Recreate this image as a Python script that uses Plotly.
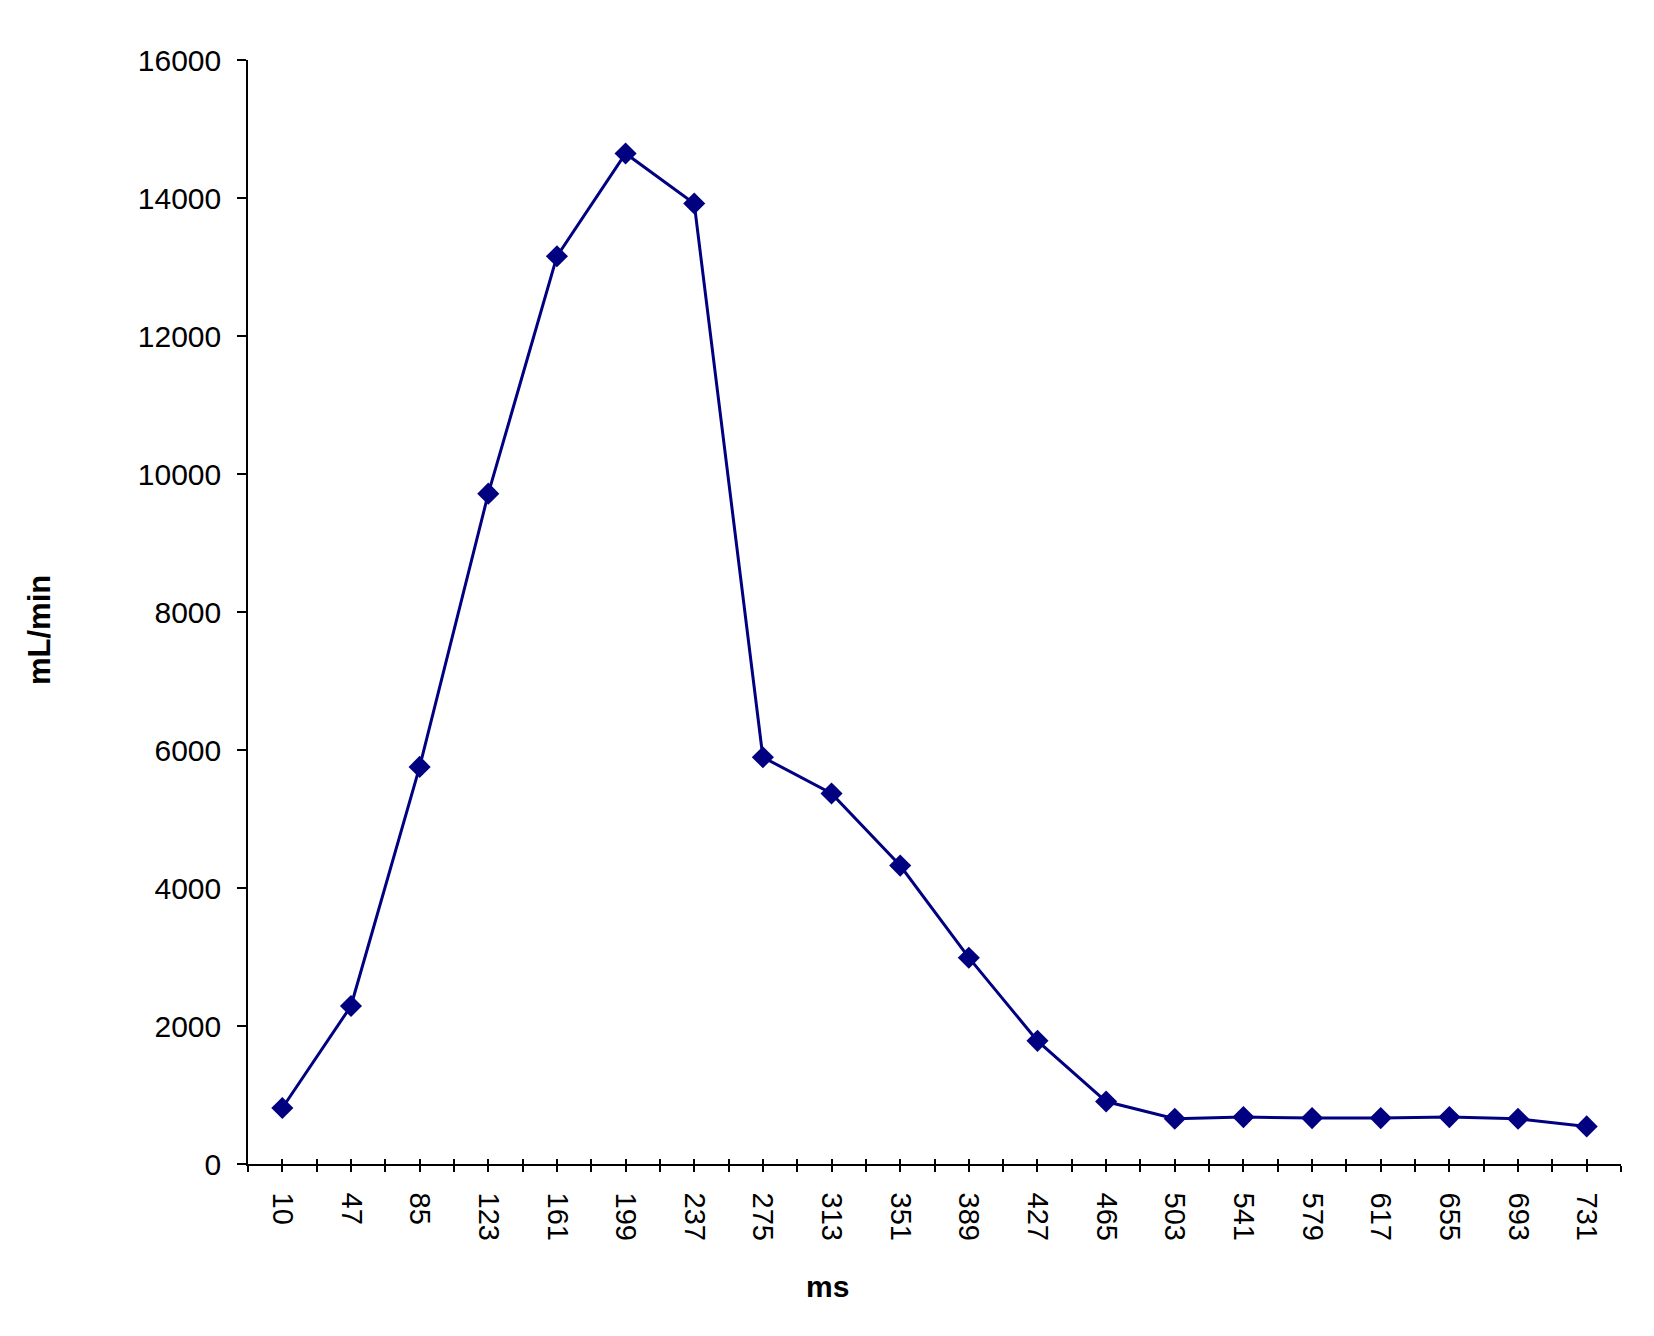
import plotly.graph_objects as go

# Data
time_ms = ["10", "47", "85", "123", "161", "199", "237", "275", "313", "351",
           "389", "427", "465", "503", "541", "579", "617", "655", "693", "731"]
flow_ml_min = [812, 2290, 5755, 9715, 13155, 14645, 13920, 5895, 5370, 4325,
               2990, 1785, 905, 655, 680, 665, 665, 680, 655, 545]
y_ticks = [0, 2000, 4000, 6000, 8000, 10000, 12000, 14000, 16000]
y_tick_labels = ["0", "2000", "4000", "6000", "8000", "10000", "12000", "14000", "16000"]

FONT = "Arial, Liberation Sans, sans-serif"
NAVY = "#000080"

xpos = list(range(len(time_ms)))

fig = go.Figure()
fig.add_trace(go.Scatter(
    x=xpos, y=flow_ml_min, mode="lines+markers",
    line=dict(color=NAVY, width=3),
    marker=dict(symbol="diamond", size=17, color=NAVY),
    showlegend=False, hoverinfo="skip",
))
fig.add_trace(go.Scatter(x=[], y=[], xaxis="x2", showlegend=False))

W, H = 1654, 1336
fig.update_layout(
    width=W, height=H,
    paper_bgcolor="white", plot_bgcolor="white",
    margin=dict(l=248, r=33, t=60, b=172, pad=0),
    font=dict(family=FONT, size=29, color="black"),
    xaxis=dict(
        range=[-0.5, len(time_ms) - 0.5],
        tickmode="array", tickvals=xpos, ticktext=time_ms,
        tickangle=90, ticks="outside", ticklen=6, tickwidth=1.5, tickcolor="black",
        minor=dict(tickmode="linear", tick0=-0.5, dtick=1, ticks="outside",
                   ticklen=6, tickwidth=1.5, tickcolor="black"),
        showline=True, linecolor="black", linewidth=1.5,
        showgrid=False, zeroline=False,
        ticklabelstandoff=15,
        tickfont=dict(family=FONT, size=29, color="black"),
    ),
    xaxis2=dict(
        overlaying="x", anchor="y", side="bottom",
        range=[-0.5, len(time_ms) - 0.5],
        tickmode="array", tickvals=xpos, showticklabels=False,
        ticks="inside", ticklen=5, tickwidth=1.5, tickcolor="black",
        minor=dict(tickmode="linear", tick0=-0.5, dtick=1, ticks="inside",
                   ticklen=5, tickwidth=1.5, tickcolor="black"),
        showline=False, showgrid=False, zeroline=False,
    ),
    yaxis=dict(
        range=[0, 16000], tickmode="array", tickvals=y_ticks, ticktext=y_tick_labels,
        ticks="outside", ticklen=9, tickwidth=1.5, tickcolor="black",
        showline=True, linecolor="black", linewidth=1.5,
        showgrid=False, zeroline=False,
        ticklabelstandoff=10,
        tickfont=dict(family=FONT, size=30, color="black"),
    ),
    annotations=[
        dict(text="<b>mL/min</b>", xref="paper", yref="paper",
             x=(39 - 248) / (W - 248 - 33), y=(1336 - 172 - 630) / (1336 - 60 - 172),
             xanchor="center", yanchor="middle", textangle=-90, showarrow=False,
             font=dict(family=FONT, size=31, color="black")),
        dict(text="<b>ms</b>", xref="paper", yref="paper",
             x=(827 - 248) / (W - 248 - 33), y=-(1287 - 1164) / (1336 - 60 - 172),
             xanchor="center", yanchor="middle", showarrow=False,
             font=dict(family=FONT, size=30, color="black")),
    ],
)

fig.write_html("out.html")
